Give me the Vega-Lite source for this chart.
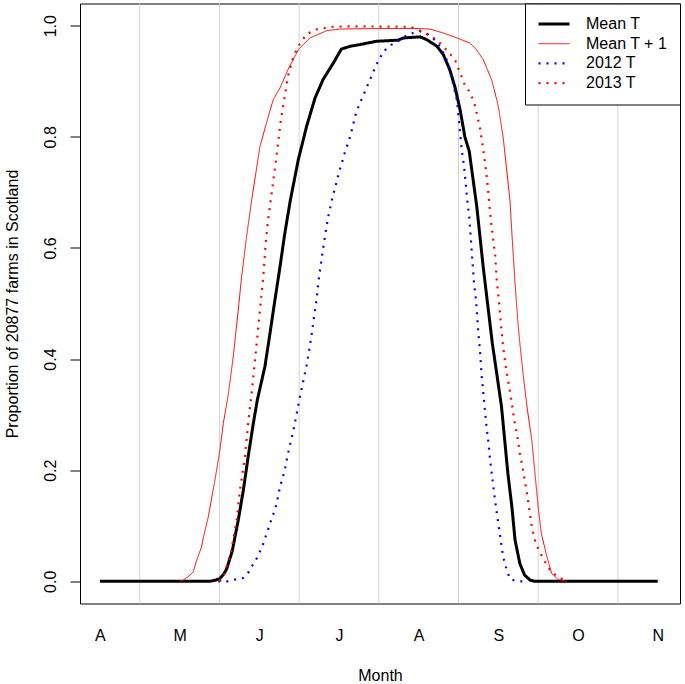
{
  "$schema": "https://vega.github.io/schema/vega-lite/v6.json",
  "width": 600,
  "height": 600,
  "autosize": {"type": "none"},
  "padding": {"left": 80, "top": 3.5, "right": 5, "bottom": 80.5},
  "background": "white",
  "config": {"view": {"stroke": "black", "strokeWidth": 1}, "font": "Liberation Sans"},
  "layer": [
    {
      "data": {"values": [{"x": 0.5}, {"x": 1.5}, {"x": 2.5}, {"x": 3.5}, {"x": 4.5}, {"x": 5.5}, {"x": 6.5}]},
      "mark": {"type": "rule", "color": "#d3d3d3", "strokeWidth": 1},
      "encoding": {
        "x": {
          "field": "x", "type": "quantitative",
          "scale": {"domain": [-0.25, 7.28], "nice": false, "zero": false},
          "axis": {
            "values": [0, 1, 2, 3, 4, 5, 6, 7],
            "labelExpr": "['A','M','J','J','A','S','O','N'][datum.value]",
            "ticks": false, "tickSize": 0, "domain": false, "grid": false,
            "labelPadding": 37, "labelBaseline": "alphabetic", "labelAlign": "center",
            "labelFontSize": 16, "labelColor": "black", "labelFont": "Liberation Sans",
            "labelFlush": false, "labelOverlap": false,
            "title": "Month", "titleFontSize": 16, "titleFontWeight": "normal", "titleColor": "black",
            "titleFont": "Liberation Sans", "titleBaseline": "alphabetic", "titleX": 300, "titleY": 76.5
          }
        }
      }
    },
    {
      "data": {"values": [
        {"s": "Mean T", "x": 0, "y": 0},
        {"s": "Mean T", "x": 1.38, "y": 0},
        {"s": "Mean T", "x": 1.45, "y": 0.002},
        {"s": "Mean T", "x": 1.506, "y": 0.005},
        {"s": "Mean T", "x": 1.55, "y": 0.012},
        {"s": "Mean T", "x": 1.59, "y": 0.022},
        {"s": "Mean T", "x": 1.66, "y": 0.054},
        {"s": "Mean T", "x": 1.736, "y": 0.11},
        {"s": "Mean T", "x": 1.8, "y": 0.164},
        {"s": "Mean T", "x": 1.86, "y": 0.224},
        {"s": "Mean T", "x": 1.925, "y": 0.284},
        {"s": "Mean T", "x": 1.975, "y": 0.326},
        {"s": "Mean T", "x": 2.07, "y": 0.386},
        {"s": "Mean T", "x": 2.134, "y": 0.446},
        {"s": "Mean T", "x": 2.196, "y": 0.506},
        {"s": "Mean T", "x": 2.26, "y": 0.566},
        {"s": "Mean T", "x": 2.32, "y": 0.626},
        {"s": "Mean T", "x": 2.39, "y": 0.686},
        {"s": "Mean T", "x": 2.49, "y": 0.759},
        {"s": "Mean T", "x": 2.594, "y": 0.819},
        {"s": "Mean T", "x": 2.7, "y": 0.87},
        {"s": "Mean T", "x": 2.8, "y": 0.903},
        {"s": "Mean T", "x": 2.93, "y": 0.933},
        {"s": "Mean T", "x": 3.03, "y": 0.958},
        {"s": "Mean T", "x": 3.14, "y": 0.963},
        {"s": "Mean T", "x": 3.26, "y": 0.966},
        {"s": "Mean T", "x": 3.47, "y": 0.972},
        {"s": "Mean T", "x": 3.74, "y": 0.974},
        {"s": "Mean T", "x": 3.81, "y": 0.978},
        {"s": "Mean T", "x": 4.02, "y": 0.98},
        {"s": "Mean T", "x": 4.1, "y": 0.975},
        {"s": "Mean T", "x": 4.23, "y": 0.963},
        {"s": "Mean T", "x": 4.31, "y": 0.948},
        {"s": "Mean T", "x": 4.39, "y": 0.921},
        {"s": "Mean T", "x": 4.455, "y": 0.89},
        {"s": "Mean T", "x": 4.52, "y": 0.849},
        {"s": "Mean T", "x": 4.58, "y": 0.8},
        {"s": "Mean T", "x": 4.635, "y": 0.774},
        {"s": "Mean T", "x": 4.73, "y": 0.674},
        {"s": "Mean T", "x": 4.81, "y": 0.566},
        {"s": "Mean T", "x": 4.925, "y": 0.428},
        {"s": "Mean T", "x": 4.98, "y": 0.374},
        {"s": "Mean T", "x": 5.04, "y": 0.314},
        {"s": "Mean T", "x": 5.08, "y": 0.254},
        {"s": "Mean T", "x": 5.12, "y": 0.194},
        {"s": "Mean T", "x": 5.17, "y": 0.134},
        {"s": "Mean T", "x": 5.21, "y": 0.074},
        {"s": "Mean T", "x": 5.27, "y": 0.032},
        {"s": "Mean T", "x": 5.33, "y": 0.011},
        {"s": "Mean T", "x": 5.4, "y": 0.002},
        {"s": "Mean T", "x": 5.46, "y": 0},
        {"s": "Mean T", "x": 7, "y": 0},

        {"s": "Mean T + 1", "x": 1.0, "y": 0},
        {"s": "Mean T + 1", "x": 1.046, "y": 0.002},
        {"s": "Mean T + 1", "x": 1.13, "y": 0.011},
        {"s": "Mean T + 1", "x": 1.17, "y": 0.017},
        {"s": "Mean T + 1", "x": 1.21, "y": 0.036},
        {"s": "Mean T + 1", "x": 1.276, "y": 0.062},
        {"s": "Mean T + 1", "x": 1.3, "y": 0.08},
        {"s": "Mean T + 1", "x": 1.36, "y": 0.116},
        {"s": "Mean T + 1", "x": 1.443, "y": 0.182},
        {"s": "Mean T + 1", "x": 1.506, "y": 0.236},
        {"s": "Mean T + 1", "x": 1.548, "y": 0.284},
        {"s": "Mean T + 1", "x": 1.61, "y": 0.335},
        {"s": "Mean T + 1", "x": 1.673, "y": 0.404},
        {"s": "Mean T + 1", "x": 1.736, "y": 0.488},
        {"s": "Mean T + 1", "x": 1.778, "y": 0.548},
        {"s": "Mean T + 1", "x": 1.84, "y": 0.62},
        {"s": "Mean T + 1", "x": 1.904, "y": 0.686},
        {"s": "Mean T + 1", "x": 2.008, "y": 0.782},
        {"s": "Mean T + 1", "x": 2.09, "y": 0.825},
        {"s": "Mean T + 1", "x": 2.175, "y": 0.867},
        {"s": "Mean T + 1", "x": 2.26, "y": 0.888},
        {"s": "Mean T + 1", "x": 2.36, "y": 0.921},
        {"s": "Mean T + 1", "x": 2.49, "y": 0.957},
        {"s": "Mean T + 1", "x": 2.636, "y": 0.978},
        {"s": "Mean T + 1", "x": 2.845, "y": 0.991},
        {"s": "Mean T + 1", "x": 3.01, "y": 0.994},
        {"s": "Mean T + 1", "x": 3.5, "y": 0.995},
        {"s": "Mean T + 1", "x": 4.0, "y": 0.995},
        {"s": "Mean T + 1", "x": 4.14, "y": 0.994},
        {"s": "Mean T + 1", "x": 4.31, "y": 0.987},
        {"s": "Mean T + 1", "x": 4.48, "y": 0.978},
        {"s": "Mean T + 1", "x": 4.64, "y": 0.969},
        {"s": "Mean T + 1", "x": 4.72, "y": 0.958},
        {"s": "Mean T + 1", "x": 4.81, "y": 0.939},
        {"s": "Mean T + 1", "x": 4.916, "y": 0.903},
        {"s": "Mean T + 1", "x": 4.98, "y": 0.867},
        {"s": "Mean T + 1", "x": 5.0, "y": 0.855},
        {"s": "Mean T + 1", "x": 5.06, "y": 0.8},
        {"s": "Mean T + 1", "x": 5.1, "y": 0.747},
        {"s": "Mean T + 1", "x": 5.146, "y": 0.686},
        {"s": "Mean T + 1", "x": 5.17, "y": 0.627},
        {"s": "Mean T + 1", "x": 5.21, "y": 0.536},
        {"s": "Mean T + 1", "x": 5.25, "y": 0.458},
        {"s": "Mean T + 1", "x": 5.275, "y": 0.422},
        {"s": "Mean T + 1", "x": 5.31, "y": 0.374},
        {"s": "Mean T + 1", "x": 5.36, "y": 0.314},
        {"s": "Mean T + 1", "x": 5.42, "y": 0.254},
        {"s": "Mean T + 1", "x": 5.46, "y": 0.194},
        {"s": "Mean T + 1", "x": 5.5, "y": 0.134},
        {"s": "Mean T + 1", "x": 5.54, "y": 0.086},
        {"s": "Mean T + 1", "x": 5.61, "y": 0.044},
        {"s": "Mean T + 1", "x": 5.67, "y": 0.014},
        {"s": "Mean T + 1", "x": 5.75, "y": 0.003},
        {"s": "Mean T + 1", "x": 5.86, "y": 0},

        {"s": "2012 T", "x": 1.485, "y": 0},
        {"s": "2012 T", "x": 1.6, "y": 0},
        {"s": "2012 T", "x": 1.69, "y": 0.003},
        {"s": "2012 T", "x": 1.8, "y": 0.006},
        {"s": "2012 T", "x": 1.87, "y": 0.017},
        {"s": "2012 T", "x": 1.924, "y": 0.031},
        {"s": "2012 T", "x": 1.975, "y": 0.043},
        {"s": "2012 T", "x": 2.017, "y": 0.056},
        {"s": "2012 T", "x": 2.06, "y": 0.071},
        {"s": "2012 T", "x": 2.09, "y": 0.085},
        {"s": "2012 T", "x": 2.125, "y": 0.099},
        {"s": "2012 T", "x": 2.155, "y": 0.113},
        {"s": "2012 T", "x": 2.196, "y": 0.128},
        {"s": "2012 T", "x": 2.225, "y": 0.145},
        {"s": "2012 T", "x": 2.26, "y": 0.17},
        {"s": "2012 T", "x": 2.29, "y": 0.185},
        {"s": "2012 T", "x": 2.32, "y": 0.2},
        {"s": "2012 T", "x": 2.36, "y": 0.23},
        {"s": "2012 T", "x": 2.41, "y": 0.26},
        {"s": "2012 T", "x": 2.45, "y": 0.287},
        {"s": "2012 T", "x": 2.49, "y": 0.317},
        {"s": "2012 T", "x": 2.51, "y": 0.332},
        {"s": "2012 T", "x": 2.55, "y": 0.359},
        {"s": "2012 T", "x": 2.594, "y": 0.389},
        {"s": "2012 T", "x": 2.63, "y": 0.419},
        {"s": "2012 T", "x": 2.66, "y": 0.447},
        {"s": "2012 T", "x": 2.69, "y": 0.479},
        {"s": "2012 T", "x": 2.72, "y": 0.508},
        {"s": "2012 T", "x": 2.74, "y": 0.537},
        {"s": "2012 T", "x": 2.77, "y": 0.568},
        {"s": "2012 T", "x": 2.8, "y": 0.598},
        {"s": "2012 T", "x": 2.83, "y": 0.626},
        {"s": "2012 T", "x": 2.865, "y": 0.656},
        {"s": "2012 T", "x": 2.91, "y": 0.686},
        {"s": "2012 T", "x": 3.0, "y": 0.735},
        {"s": "2012 T", "x": 3.07, "y": 0.77},
        {"s": "2012 T", "x": 3.14, "y": 0.8},
        {"s": "2012 T", "x": 3.22, "y": 0.846},
        {"s": "2012 T", "x": 3.3, "y": 0.873},
        {"s": "2012 T", "x": 3.39, "y": 0.903},
        {"s": "2012 T", "x": 3.47, "y": 0.93},
        {"s": "2012 T", "x": 3.56, "y": 0.954},
        {"s": "2012 T", "x": 3.66, "y": 0.966},
        {"s": "2012 T", "x": 3.74, "y": 0.972},
        {"s": "2012 T", "x": 3.83, "y": 0.981},
        {"s": "2012 T", "x": 3.93, "y": 0.987},
        {"s": "2012 T", "x": 4.02, "y": 0.99},
        {"s": "2012 T", "x": 4.1, "y": 0.986},
        {"s": "2012 T", "x": 4.18, "y": 0.978},
        {"s": "2012 T", "x": 4.25, "y": 0.966},
        {"s": "2012 T", "x": 4.31, "y": 0.951},
        {"s": "2012 T", "x": 4.35, "y": 0.939},
        {"s": "2012 T", "x": 4.39, "y": 0.921},
        {"s": "2012 T", "x": 4.43, "y": 0.897},
        {"s": "2012 T", "x": 4.48, "y": 0.866},
        {"s": "2012 T", "x": 4.5, "y": 0.837},
        {"s": "2012 T", "x": 4.52, "y": 0.807},
        {"s": "2012 T", "x": 4.54, "y": 0.777},
        {"s": "2012 T", "x": 4.57, "y": 0.747},
        {"s": "2012 T", "x": 4.59, "y": 0.717},
        {"s": "2012 T", "x": 4.61, "y": 0.686},
        {"s": "2012 T", "x": 4.635, "y": 0.656},
        {"s": "2012 T", "x": 4.65, "y": 0.626},
        {"s": "2012 T", "x": 4.665, "y": 0.596},
        {"s": "2012 T", "x": 4.68, "y": 0.566},
        {"s": "2012 T", "x": 4.695, "y": 0.536},
        {"s": "2012 T", "x": 4.72, "y": 0.506},
        {"s": "2012 T", "x": 4.735, "y": 0.476},
        {"s": "2012 T", "x": 4.75, "y": 0.446},
        {"s": "2012 T", "x": 4.77, "y": 0.415},
        {"s": "2012 T", "x": 4.79, "y": 0.371},
        {"s": "2012 T", "x": 4.82, "y": 0.326},
        {"s": "2012 T", "x": 4.85, "y": 0.281},
        {"s": "2012 T", "x": 4.875, "y": 0.251},
        {"s": "2012 T", "x": 4.895, "y": 0.221},
        {"s": "2012 T", "x": 4.92, "y": 0.191},
        {"s": "2012 T", "x": 4.945, "y": 0.161},
        {"s": "2012 T", "x": 4.97, "y": 0.134},
        {"s": "2012 T", "x": 5.0, "y": 0.104},
        {"s": "2012 T", "x": 5.03, "y": 0.074},
        {"s": "2012 T", "x": 5.06, "y": 0.044},
        {"s": "2012 T", "x": 5.09, "y": 0.029},
        {"s": "2012 T", "x": 5.11, "y": 0.017},
        {"s": "2012 T", "x": 5.155, "y": 0.003},
        {"s": "2012 T", "x": 5.25, "y": 0},
        {"s": "2012 T", "x": 5.36, "y": 0},

        {"s": "2013 T", "x": 1.5, "y": 0},
        {"s": "2013 T", "x": 1.556, "y": 0.01},
        {"s": "2013 T", "x": 1.65, "y": 0.056},
        {"s": "2013 T", "x": 1.716, "y": 0.11},
        {"s": "2013 T", "x": 1.757, "y": 0.164},
        {"s": "2013 T", "x": 1.82, "y": 0.224},
        {"s": "2013 T", "x": 1.86, "y": 0.284},
        {"s": "2013 T", "x": 1.904, "y": 0.338},
        {"s": "2013 T", "x": 1.967, "y": 0.428},
        {"s": "2013 T", "x": 2.008, "y": 0.488},
        {"s": "2013 T", "x": 2.05, "y": 0.548},
        {"s": "2013 T", "x": 2.08, "y": 0.608},
        {"s": "2013 T", "x": 2.11, "y": 0.65},
        {"s": "2013 T", "x": 2.155, "y": 0.698},
        {"s": "2013 T", "x": 2.22, "y": 0.77},
        {"s": "2013 T", "x": 2.27, "y": 0.83},
        {"s": "2013 T", "x": 2.32, "y": 0.873},
        {"s": "2013 T", "x": 2.36, "y": 0.909},
        {"s": "2013 T", "x": 2.43, "y": 0.945},
        {"s": "2013 T", "x": 2.49, "y": 0.963},
        {"s": "2013 T", "x": 2.59, "y": 0.984},
        {"s": "2013 T", "x": 2.7, "y": 0.993},
        {"s": "2013 T", "x": 2.91, "y": 0.998},
        {"s": "2013 T", "x": 3.1, "y": 0.999},
        {"s": "2013 T", "x": 3.9, "y": 0.998},
        {"s": "2013 T", "x": 4.02, "y": 0.991},
        {"s": "2013 T", "x": 4.1, "y": 0.985},
        {"s": "2013 T", "x": 4.2, "y": 0.977},
        {"s": "2013 T", "x": 4.29, "y": 0.966},
        {"s": "2013 T", "x": 4.37, "y": 0.953},
        {"s": "2013 T", "x": 4.455, "y": 0.939},
        {"s": "2013 T", "x": 4.52, "y": 0.915},
        {"s": "2013 T", "x": 4.58, "y": 0.893},
        {"s": "2013 T", "x": 4.65, "y": 0.879},
        {"s": "2013 T", "x": 4.71, "y": 0.855},
        {"s": "2013 T", "x": 4.77, "y": 0.815},
        {"s": "2013 T", "x": 4.82, "y": 0.768},
        {"s": "2013 T", "x": 4.86, "y": 0.722},
        {"s": "2013 T", "x": 4.89, "y": 0.674},
        {"s": "2013 T", "x": 4.92, "y": 0.632},
        {"s": "2013 T", "x": 4.96, "y": 0.587},
        {"s": "2013 T", "x": 4.98, "y": 0.542},
        {"s": "2013 T", "x": 5.01, "y": 0.5},
        {"s": "2013 T", "x": 5.04, "y": 0.452},
        {"s": "2013 T", "x": 5.06, "y": 0.422},
        {"s": "2013 T", "x": 5.1, "y": 0.38},
        {"s": "2013 T", "x": 5.136, "y": 0.35},
        {"s": "2013 T", "x": 5.17, "y": 0.32},
        {"s": "2013 T", "x": 5.2, "y": 0.29},
        {"s": "2013 T", "x": 5.24, "y": 0.26},
        {"s": "2013 T", "x": 5.27, "y": 0.23},
        {"s": "2013 T", "x": 5.31, "y": 0.2},
        {"s": "2013 T", "x": 5.36, "y": 0.158},
        {"s": "2013 T", "x": 5.39, "y": 0.128},
        {"s": "2013 T", "x": 5.42, "y": 0.098},
        {"s": "2013 T", "x": 5.47, "y": 0.068},
        {"s": "2013 T", "x": 5.56, "y": 0.041},
        {"s": "2013 T", "x": 5.65, "y": 0.02},
        {"s": "2013 T", "x": 5.75, "y": 0.007},
        {"s": "2013 T", "x": 5.84, "y": 0.002}
      ]},
      "mark": {"type": "line", "strokeCap": "butt", "strokeJoin": "round"},
      "encoding": {
        "x": {
          "field": "x", "type": "quantitative",
          "scale": {"domain": [-0.25, 7.28], "nice": false, "zero": false},
          "axis": {
            "values": [0, 1, 2, 3, 4, 5, 6, 7],
            "labelExpr": "['A','M','J','J','A','S','O','N'][datum.value]",
            "ticks": false, "tickSize": 0, "domain": false, "grid": false,
            "labelPadding": 37, "labelBaseline": "alphabetic", "labelAlign": "center",
            "labelFontSize": 16, "labelColor": "black", "labelFont": "Liberation Sans",
            "labelFlush": false, "labelOverlap": false,
            "title": "Month", "titleFontSize": 16, "titleFontWeight": "normal", "titleColor": "black",
            "titleFont": "Liberation Sans", "titleBaseline": "alphabetic", "titleX": 300, "titleY": 76.5
          }
        },
        "y": {
          "field": "y", "type": "quantitative",
          "scale": {"domain": [-0.04, 1.04], "nice": false, "zero": false},
          "axis": {
            "values": [0, 0.2, 0.4, 0.6, 0.8, 1.0],
            "format": ".1f", "grid": false, "domain": false,
            "ticks": true, "tickSize": 10, "tickColor": "black", "tickWidth": 1,
            "labelAngle": -90, "labelAlign": "center", "labelBaseline": "bottom", "labelPadding": 12,
            "labelFontSize": 16, "labelColor": "black", "labelFont": "Liberation Sans",
            "labelFlush": false, "labelOverlap": false,
            "title": "Proportion of 20877 farms in Scotland", "titleFontSize": 16, "titleFontWeight": "normal",
            "titleColor": "black", "titleFont": "Liberation Sans", "titleAngle": -90, "titleAlign": "center",
            "titleBaseline": "alphabetic", "titleX": -63, "titleY": 300
          }
        },
        "color": {
          "field": "s", "type": "nominal",
          "scale": {"domain": ["Mean T", "Mean T + 1", "2012 T", "2013 T"], "range": ["#000000", "#ff0000", "#0000ff", "#ff0000"]},
          "legend": {"title": null, "orient": "top-right", "offset": 0, "strokeColor": "black", "fillColor": "white", "padding": 12, "cornerRadius": 0, "symbolType": "stroke", "symbolSize": 961, "clipHeight": 17, "labelFontSize": 16, "labelFont": "Liberation Sans", "labelColor": "black", "labelOffset": 15, "rowPadding": 2.7}
        },
        "strokeDash": {
          "field": "s", "type": "nominal",
          "scale": {"domain": ["Mean T", "Mean T + 1", "2012 T", "2013 T"], "range": [[1, 0], [1, 0], [2, 6], [2, 6]]},
          "legend": {"title": null, "orient": "top-right", "offset": 0, "strokeColor": "black", "fillColor": "white", "padding": 12, "cornerRadius": 0, "symbolType": "stroke", "symbolSize": 961, "clipHeight": 17, "labelFontSize": 16, "labelFont": "Liberation Sans", "labelColor": "black", "labelOffset": 15, "rowPadding": 2.7}
        },
        "strokeWidth": {
          "field": "s", "type": "nominal",
          "scale": {"type": "ordinal", "domain": ["Mean T", "Mean T + 1", "2012 T", "2013 T"], "range": [3, 1, 2.2, 2.2]},
          "legend": {"title": null, "orient": "top-right", "offset": 0, "strokeColor": "black", "fillColor": "white", "padding": 12, "cornerRadius": 0, "symbolType": "stroke", "symbolSize": 961, "clipHeight": 17, "labelFontSize": 16, "labelFont": "Liberation Sans", "labelColor": "black", "labelOffset": 15, "rowPadding": 2.7}
        }
      }
    }
  ]
}
